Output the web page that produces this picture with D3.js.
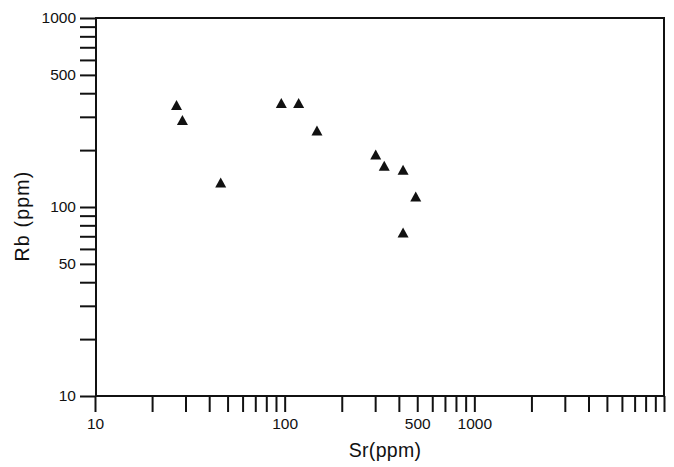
<!DOCTYPE html>
<html>
<head>
<meta charset="utf-8">
<script src="https://cdn.jsdelivr.net/npm/d3@7"></script>
<style>
  body { margin: 0; background: #fff; }
  text { font-family: "Liberation Sans", Arial, Helvetica, sans-serif; fill: #111; }
</style>
</head>
<body>
<svg id="chart" width="674" height="467"></svg>
<script>
// Sr vs Rb, both in ppm
const srValues = [26.9, 28.9, 46, 96, 118.5, 148, 302, 335, 421, 491, 421];
const rbValues = [346, 289, 134.6, 355, 355, 254, 189.5, 165.3, 157.6, 113.8, 73.2];

const xTickLabels = [10, 100, 500, 1000];
const yTickLabels = [10, 50, 100, 500, 1000];

const xDomain = [10, 10000];
const yDomain = [10, 1000];

const width = 674, height = 467;
const plot = { left: 96, right: 664, top: 18, bottom: 396 };
const tickLen = 16;

const svg = d3.select("#chart");

const x = d3.scaleLog().domain(xDomain).range([plot.left - 1, plot.right]);
const y = d3.scaleLog().domain(yDomain).range([plot.bottom, plot.top]);

// x axis
const xAxis = d3.axisBottom(x)
    .tickValues(x.ticks())
    .tickFormat(d => xTickLabels.includes(Math.round(d)) ? d3.format("d")(d) : "")
    .tickSizeInner(tickLen)
    .tickSizeOuter(0)
    .tickPadding(6);

const gx = svg.append("g")
    .attr("transform", "translate(0," + plot.bottom + ")")
    .call(xAxis);

// y axis
const yAxis = d3.axisLeft(y)
    .tickValues(y.ticks())
    .tickFormat(d => yTickLabels.includes(Math.round(d)) ? d3.format("d")(d) : "")
    .tickSizeInner(tickLen)
    .tickSizeOuter(0)
    .tickPadding(4);

const gy = svg.append("g")
    .attr("transform", "translate(" + plot.left + ",0)")
    .call(yAxis);

[gx, gy].forEach(g => {
  g.selectAll(".domain").remove();
  g.selectAll(".tick line").attr("stroke", "#111").attr("stroke-width", 2);
  g.selectAll(".tick text").style("font-size", "15.5px").attr("fill", "#111");
});

// frame
svg.append("rect")
    .attr("x", plot.left)
    .attr("y", plot.top)
    .attr("width", plot.right - plot.left)
    .attr("height", plot.bottom - plot.top)
    .attr("fill", "none")
    .attr("stroke", "#111")
    .attr("stroke-width", 2);

// axis titles
svg.append("text")
    .attr("x", 385)
    .attr("y", 457)
    .attr("text-anchor", "middle")
    .style("font-size", "19.5px")
    .style("letter-spacing", "0.3px")
    .text("Sr(ppm)");

svg.append("text")
    .attr("transform", "translate(29,216) rotate(-90)")
    .attr("text-anchor", "middle")
    .style("font-size", "19.5px")
    .style("letter-spacing", "1.2px")
    .text("Rb (ppm)");

// triangle markers, centred on the bounding box
const triW = 11, triH = 10;
const triangle = "M0," + (-triH / 2) + "L" + (triW / 2) + "," + (triH / 2) + "L" + (-triW / 2) + "," + (triH / 2) + "Z";

svg.append("g")
  .selectAll("path")
  .data(srValues.map((d, i) => ({ sr: d, rb: rbValues[i] })))
  .enter().append("path")
    .attr("d", triangle)
    .attr("transform", d => "translate(" + x(d.sr) + "," + y(d.rb) + ")")
    .attr("fill", "#111");
</script>
</body>
</html>
